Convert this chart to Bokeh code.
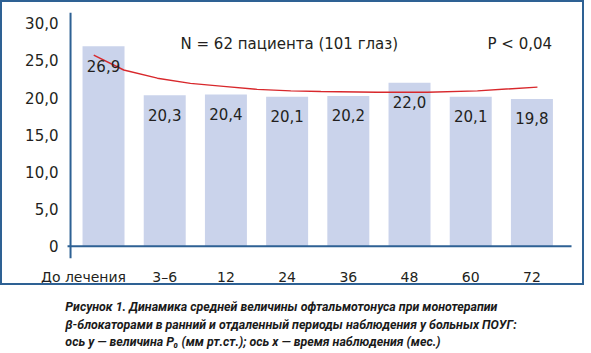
from bokeh.plotting import figure
from bokeh.models import Range1d, FixedTicker, ColumnDataSource
from bokeh.layouts import column
from bokeh.embed import file_html
from bokeh.resources import INLINE
from bokeh.core.properties import value

# ---- data ----
categories = ["До лечения", "3–6", "12", "24", "36", "48", "60", "72"]
iop_values = [26.9, 20.3, 20.4, 20.1, 20.2, 22.0, 20.1, 19.8]
y_ticks = [0, 5, 10, 15, 20, 25, 30]
y_tick_labels = ["0", "5,0", "10,0", "15,0", "20,0", "25,0", "30,0"]
trend_x = [0.84, 1.33, 1.88, 2.42, 2.96, 3.51, 4.06, 4.55, 5.47, 6.29, 7.11, 8.09]
trend_y = [25.7, 23.7, 22.6, 21.9, 21.5, 21.1, 20.9, 20.8, 20.7, 20.7, 20.9, 21.4]
note_n = "N = 62 пациента (101 глаз)"
note_p = "P < 0,04"
caption_lines = [
    "Рисунок 1. Динамика средней величины офтальмотонуса при монотерапии",
    "β-блокаторами в ранний и отдаленный периоды наблюдения у больных ПОУГ:",
    "ось у — величина Р₀ (мм рт.ст.); ось х — время наблюдения (мес.)",
]

# ---- styles ----
FONT = "DejaVu Sans"
TXT = "#231f20"
AXIS_BLUE = "#2e6194"
BAR = "#cad3eb"
TREND = "#d8282c"

xs = list(range(1, len(categories) + 1))
src = ColumnDataSource(dict(
    x=xs,
    top=iop_values,
    label_y=[v - 2.6 for v in iop_values],
    label=[f"{v:.1f}".replace(".", ",") for v in iop_values],
))

X0, X1 = 0.395, 8.663
Y0, Y1 = -1.64, 31.43
W, H = 584, 285            # canvas size inside a 2px CSS border
FL, FR, FT, FB = 64, 570, 10, 258  # frame edges in canvas pixels

p = figure(width=W, height=H, x_range=Range1d(X0, X1), y_range=Range1d(Y0, Y1),
           output_backend="svg", toolbar_location=None,
           min_border_left=FL, min_border_right=W - FR, min_border_top=FT,
           min_border_bottom=H - FB)
p.styles = {"border": f"2px solid {AXIS_BLUE}"}
p.xgrid.visible = False
p.ygrid.visible = False
p.outline_line_color = None
p.background_fill_color = "white"
p.border_fill_color = "white"

p.vbar(x="x", top="top", width=0.686, source=src, fill_color=BAR, line_color=None)

# axis lines
p.segment(x0=[0.412], y0=[0], x1=[8.647], y1=[0], line_color=AXIS_BLUE, line_width=2)
p.segment(x0=[0.461], y0=[Y0], x1=[0.461], y1=[Y1], line_color=AXIS_BLUE, line_width=2)

p.line(trend_x, trend_y, line_color=TREND, line_width=1.4)

p.text(x="x", y="label_y", text="label", source=src, text_align="center",
       text_baseline="middle", text_font=value(FONT), text_font_size="15px", text_color=TXT)

p.text(x=[2.258], y=[27.23], text=[note_n], text_align="left", text_baseline="middle",
       text_font=value(FONT), text_font_size="15px", text_color=TXT)
p.text(x=[7.275], y=[27.23], text=[note_p], text_align="left", text_baseline="middle",
       text_font=value(FONT), text_font_size="15px", text_color=TXT)

p.yaxis.ticker = FixedTicker(ticks=y_ticks)
p.yaxis.major_label_overrides = {t: l for t, l in zip(y_ticks, y_tick_labels)}
p.xaxis.ticker = FixedTicker(ticks=xs)
# the first category label sits left of its bar in the reference: pad it on the right
x_labels = [categories[0] + "\u00a0" * 9] + categories[1:]
p.xaxis.major_label_overrides = {x: c for x, c in zip(xs, x_labels)}
for ax in (p.xaxis, p.yaxis):
    ax.axis_line_color = None
    ax.major_tick_line_color = None
    ax.minor_tick_line_color = None
    ax.major_tick_out = 0
    ax.major_tick_in = 0
    ax.minor_tick_out = 0
    ax.minor_tick_in = 0
    ax.major_label_text_font = FONT
    ax.major_label_text_font_size = "15px"
    ax.major_label_text_color = TXT
p.xaxis.major_label_text_font_size = "14px"
p.yaxis.major_label_standoff = 8
p.xaxis.major_label_standoff = 10

cap = figure(width=591, height=64, x_range=Range1d(0, 591), y_range=Range1d(64, 0),
             output_backend="svg", toolbar_location=None, min_border=0,
             x_axis_type=None, y_axis_type=None)
cap.xgrid.visible = False
cap.ygrid.visible = False
cap.outline_line_color = None
cap.text(x=[1, 1, 1], y=[21, 38.5, 55.5], text=caption_lines, text_align="left",
         text_baseline="alphabetic", text_font=value("Roboto"),
         text_font_style="bold italic", text_font_size="12.4px", text_color="#1a1a1a")

layout = column(p, cap, spacing=0)
open("out.html", "w").write(file_html(layout, INLINE))
